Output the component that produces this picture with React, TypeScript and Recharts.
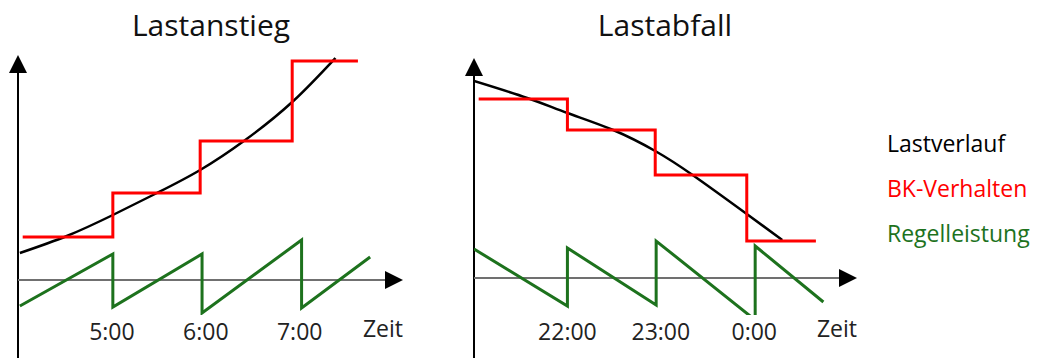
import React from "react";
import {
  LineChart, Line, XAxis, YAxis, ReferenceLine, ReferenceDot, Legend,
} from "recharts";

const FONT = '"Open Sans", "Noto Sans", sans-serif';

// Lastanstieg (hours, relative load)
const riseTicks = [5, 6, 7];
const riseLoad = [[4.02, 13.5], [4.52, 22], [5.01, 32.5], [5.48, 43.5], [5.94, 55], [6.42, 70], [6.92, 89], [7.38, 111]];
const riseBk = [[4.05, 21.5], [5.01, 43.5], [5.94, 69.5], [6.92, 109.5], [7.62, 109.5]];
const riseReg = [[4.02, -13], [5.01, 13], [5.01, -13.5], [5.96, 13], [5.96, -16.5], [7.02, 20], [7.02, -14], [7.75, 11.5]];

// Lastabfall
const fallTicks = [22, 23, 24];
const fallLoad = [[21.0, 98.5], [21.57, 90], [22.0, 82.5], [22.49, 74], [22.94, 63.5], [23.34, 51.5], [23.92, 32], [24.3, 19]];
const fallBk = [[21.05, 89.5], [22.0, 74], [22.94, 51.5], [23.92, 18.5], [24.66, 18.5]];
const fallReg = [[21.0, 14.5], [22.0, -14], [22.0, 15], [22.95, -13.5], [22.95, 18.5], [24.01, -21], [24.01, 16], [24.74, -12]];

const SERIES_NAMES = ["Lastverlauf", "BK-Verhalten", "Regelleistung"];

const toPts = (arr) => arr.map(([h, v]) => ({ h, v }));

const ArrowUp = (p) => (
  <path d={`M${p.cx},${p.cy} L${p.cx - 9},${p.cy + 18} L${p.cx + 9},${p.cy + 18} Z`} fill="#000" />
);
const ArrowRight = (p) => (
  <path d={`M${p.cx},${p.cy} L${p.cx - 18},${p.cy - 9} L${p.cx - 18},${p.cy + 9} Z`} fill="#000" />
);

const LegendText = ({ payload }) => {
  const items = [...(payload || [])].sort(
    (a, b) => SERIES_NAMES.indexOf(a.value) - SERIES_NAMES.indexOf(b.value)
  );
  return (
    <div style={{ fontFamily: FONT, fontSize: 23, lineHeight: "45px" }}>
      {items.map((p) => (
        <div key={p.value} style={{ color: p.color, whiteSpace: "nowrap" }}>{p.value}</div>
      ))}
    </div>
  );
};

function Panel({ left, width, margin, xDomain, yDomain, floor, ticks, load, bk, reg, title, titleX, legend }) {
  return (
    <div style={{ position: "absolute", left, top: 0, width, height: 358 }}>
      <div style={{
        position: "absolute", left: titleX - left - 100, width: 200, top: 4, textAlign: "center",
        fontFamily: FONT, fontSize: 30, color: "#111",
      }}>{title}</div>
      <LineChart width={width} height={358} margin={margin}>
        <XAxis dataKey="h" type="number" domain={xDomain} allowDataOverflow ticks={ticks} interval={0}
               tickFormatter={(v) => `${v % 24}:00`} tickLine={false} axisLine={false} tickMargin={3}
               height={28} tick={{ fontSize: 23, fill: "#222", fontFamily: FONT }}
               label={{ value: "Zeit", position: "insideRight", offset: 0, fontSize: 23, fill: "#222", fontFamily: FONT }} />
        <YAxis type="number" domain={yDomain} allowDataOverflow hide />
        <ReferenceLine segment={[{ x: xDomain[0], y: floor }, { x: xDomain[0], y: yDomain[1] - 4 }]}
                       stroke="#000" strokeWidth={2} ifOverflow="visible" />
        <ReferenceLine segment={[{ x: xDomain[0], y: 0 }, { x: xDomain[1] - 0.1, y: 0 }]}
                       stroke="#707070" strokeWidth={2} ifOverflow="visible" />
        <ReferenceDot x={xDomain[0]} y={yDomain[1]} shape={ArrowUp} ifOverflow="visible" />
        <ReferenceDot x={xDomain[1]} y={0} shape={ArrowRight} ifOverflow="visible" />
        <Line data={toPts(load)} dataKey="v" name={SERIES_NAMES[0]} type="natural" stroke="#000"
              strokeWidth={2.5} dot={false} isAnimationActive={false} />
        <Line data={toPts(bk)} dataKey="v" name={SERIES_NAMES[1]} type="stepAfter" stroke="#ff0000"
              strokeWidth={3} dot={false} isAnimationActive={false} />
        <Line data={toPts(reg)} dataKey="v" name={SERIES_NAMES[2]} type="linear" stroke="#1d721d"
              strokeWidth={3} dot={false} isAnimationActive={false} />
        {legend && (
          <Legend layout="vertical" align="center" verticalAlign="middle" content={LegendText}
                  wrapperStyle={{ left: 427, top: 121, width: 170, height: 140 }} />
        )}
      </LineChart>
    </div>
  );
}

export default function App() {
  return (
    <div style={{ position: "absolute", left: 0, top: 0, width: 1043, height: 358, background: "#fff", overflow: "hidden" }}>
      <Panel left={0} width={420} margin={{ top: 55, right: 17, left: 18, bottom: 15 }}
             xDomain={[4, 8.1]} yDomain={[-17.5, 112.5]} floor={-40} ticks={riseTicks}
             load={riseLoad} bk={riseBk} reg={riseReg} title="Lastanstieg" titleX={211} />
      <Panel left={460} width={583} margin={{ top: 58, right: 186, left: 14, bottom: 15 }}
             xDomain={[21, 25.1]} yDomain={[-18.5, 110]} floor={-41} ticks={fallTicks}
             load={fallLoad} bk={fallBk} reg={fallReg} title="Lastabfall" titleX={665} legend />
    </div>
  );
}
